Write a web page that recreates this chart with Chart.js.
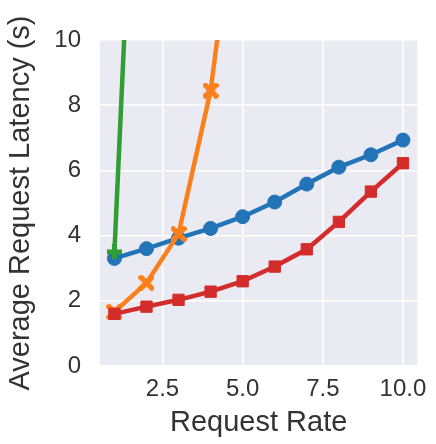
<!DOCTYPE html>
<html lang="en">
<head>
    <meta charset="UTF-8">
    <title>Average Request Latency</title>
    <style>
        body { margin: 0; background: #fff; }
        canvas { display: block; }
    </style>
    <script src="https://cdn.jsdelivr.net/npm/chart.js"></script>
</head>
<body>
    <canvas id="latencyChart" width="436" height="444"></canvas>

    <script>
        // request rates and average latency per series
        const requestRates = [1, 2, 3, 4, 5, 6, 7, 8, 9, 10];
        const blueLatency = [3.3, 3.6, 3.92, 4.22, 4.58, 5.03, 5.58, 6.1, 6.48, 6.93];
        const orangeLatency = [1.66, 2.55, 4.05, 8.45, 16];
        const greenLatency = [3.5, 25];
        const redLatency = [1.6, 1.82, 2.03, 2.28, 2.6, 3.05, 3.58, 4.42, 5.35, 6.22];

        const xTicks = [2.5, 5.0, 7.5, 10.0];
        const yTicks = [0, 2, 4, 6, 8, 10];

        const textColor = '#333333';
        const font = 'Liberation Sans, Arial, sans-serif';

        function toPoints(ys) {
            return ys.map((y, i) => ({ x: requestRates[i], y: y }));
        }

        // filled X and filled plus markers like matplotlib's 'X' and 'P'
        function makeMarker(shape, color, size) {
            const c = document.createElement('canvas');
            c.width = size;
            c.height = size;
            const ctx = c.getContext('2d');
            ctx.fillStyle = color;
            ctx.translate(size / 2, size / 2);
            if (shape === 'X') ctx.rotate(Math.PI / 4);
            const arm = size / 2;
            const w = size / 6;
            const len = shape === 'X' ? arm * 1.25 : arm;
            ctx.fillRect(-len, -w, len * 2, w * 2);
            ctx.fillRect(-w, -len, w * 2, len * 2);
            return c;
        }

        const plotBackground = {
            id: 'plotBackground',
            beforeDraw(chart) {
                const a = chart.chartArea;
                const ctx = chart.ctx;
                ctx.save();
                ctx.fillStyle = '#eaeaf2';
                ctx.fillRect(a.left, a.top, a.right - a.left, a.bottom - a.top);
                ctx.restore();
            }
        };

        function series(ys, color, style, radius, order) {
            return {
                data: toPoints(ys),
                borderColor: color,
                backgroundColor: color,
                borderWidth: 4.5,
                pointStyle: style,
                pointRadius: radius,
                pointBorderWidth: 1,
                pointBorderColor: color,
                pointBackgroundColor: color,
                clip: 0,
                order: order
            };
        }

        new Chart(document.getElementById('latencyChart'), {
            type: 'line',
            data: {
                datasets: [
                    series(blueLatency, '#2274b8', 'circle', 7, 4),
                    series(orangeLatency, '#fb7f1a', makeMarker('X', '#fb7f1a', 16), 8, 3),
                    series(greenLatency, '#2f9e35', makeMarker('P', '#2f9e35', 15), 7.5, 2),
                    series(redLatency, '#d42b2b', 'rect', 8, 1)
                ]
            },
            options: {
                responsive: false,
                animation: false,
                devicePixelRatio: 1,
                layout: { padding: { top: 40, right: 15, left: 0, bottom: 0 } },
                plugins: {
                    legend: { display: false },
                    tooltip: { enabled: false }
                },
                scales: {
                    x: {
                        type: 'linear',
                        min: 0.55,
                        max: 10.45,
                        afterBuildTicks: s => { s.ticks = xTicks.map(v => ({ value: v })); },
                        afterFit: s => { s.height = 78; },
                        grid: { color: '#ffffff', lineWidth: 1.5, drawTicks: false },
                        border: { display: false },
                        ticks: {
                            padding: 9,
                            color: textColor,
                            font: { family: font, size: 24 },
                            callback: v => v.toFixed(1)
                        },
                        title: {
                            display: true,
                            text: 'Request Rate',
                            color: textColor,
                            font: { family: font, size: 29 },
                            padding: { top: 0, bottom: 4 }
                        }
                    },
                    y: {
                        min: 0,
                        max: 10,
                        afterBuildTicks: s => { s.ticks = yTicks.map(v => ({ value: v })); },
                        afterFit: s => { s.width = 100; },
                        grid: { color: '#ffffff', lineWidth: 1.5, drawTicks: false },
                        border: { display: false },
                        ticks: {
                            padding: 19,
                            color: textColor,
                            font: { family: font, size: 24 }
                        },
                        title: {
                            display: true,
                            text: 'Average Request Latency (s)',
                            color: textColor,
                            font: { family: font, size: 29 },
                            padding: { top: 4, bottom: 0 }
                        }
                    }
                }
            },
            plugins: [plotBackground]
        });
    </script>
</body>
</html>
